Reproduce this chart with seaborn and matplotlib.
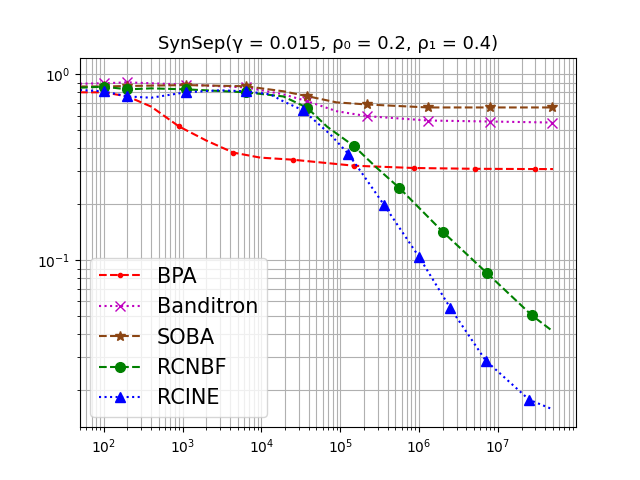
import matplotlib
matplotlib.use("Agg")
from matplotlib import pyplot as plt
import seaborn as sns

# values (x = rounds, y = error rate)
bpa_x = [50, 100, 200, 400, 900, 2000, 4400, 9700, 25000, 150000, 870000, 5.1e6, 3e7, 5e7]
bpa_y = [0.80, 0.80, 0.76, 0.67, 0.524, 0.44, 0.379, 0.356, 0.347, 0.322, 0.313, 0.310, 0.309, 0.309]
bpa_marks = [1, 2, 4, 6, 8, 9, 10, 11, 12]

ban_x = [50, 100, 200, 1100, 6400, 19000, 38000, 90000, 220000, 1.3e6, 8e6, 4.9e7]
ban_y = [0.89, 0.895, 0.905, 0.88, 0.85, 0.78, 0.717, 0.633, 0.595, 0.564, 0.557, 0.55]
ban_marks = [1, 2, 3, 4, 6, 8, 9, 10, 11]

soba_x = [50, 100, 200, 1100, 6400, 19000, 38000, 90000, 220000, 1.3e6, 8e6, 4.9e7]
soba_y = [0.86, 0.86, 0.865, 0.875, 0.862, 0.81, 0.763, 0.706, 0.688, 0.663, 0.663, 0.663]
soba_marks = [1, 2, 3, 4, 6, 8, 9, 10, 11]

rcnbf_x = [50, 100, 200, 400, 1100, 6400, 19000, 38000, 68000, 150000, 290000, 560000,
           2e6, 7.3e6, 2.7e7, 5e7]
rcnbf_y = [0.847, 0.858, 0.83, 0.84, 0.83, 0.80, 0.76, 0.661, 0.523, 0.41, 0.314, 0.245,
           0.142, 0.085, 0.0504, 0.0413]
rcnbf_marks = [1, 2, 4, 5, 7, 9, 11, 12, 13, 14]

rcine_x = [50, 100, 200, 400, 1100, 3000, 6400, 13000, 19000, 34000, 75000, 126000, 195000,
           360000, 1e6, 2.5e6, 7e6, 2.5e7, 5e7]
rcine_y = [0.823, 0.81, 0.76, 0.748, 0.80, 0.82, 0.81, 0.78, 0.715, 0.639, 0.474, 0.374, 0.288,
           0.198, 0.104, 0.0551, 0.0288, 0.0177, 0.0157]
rcine_marks = [1, 2, 4, 6, 9, 11, 13, 14, 15, 16, 17]

series = [
    ("BPA", bpa_x, bpa_y, bpa_marks, "red", "--", "."),
    ("Banditron", ban_x, ban_y, ban_marks, "m", ":", "x"),
    ("SOBA", soba_x, soba_y, soba_marks, "saddlebrown", "--", "*"),
    ("RCNBF", rcnbf_x, rcnbf_y, rcnbf_marks, "green", "--", "o"),
    ("RCINE", rcine_x, rcine_y, rcine_marks, "blue", ":", "^"),
]

fig, ax = plt.subplots(figsize=(6.4, 4.8), dpi=100)

for name, xs, ys, marks, col, ls, mk in series:
    sns.lineplot(x=xs, y=ys, ax=ax, color=col, linestyle=ls, marker=mk,
                 markevery=marks, markersize=7 if mk != "." else 6,
                 markeredgecolor=col, markerfacecolor=col, markeredgewidth=1,
                 label=name, sort=False, linewidth=1.5)

ax.set_xscale("log")
ax.set_yscale("log")
ax.set_xlim(50, 9.8e7)
ax.set_ylim(0.0126, 1.23)
ax.grid(True, which="both")
ax.set_xlabel("")
ax.set_ylabel("")
ax.set_title("SynSep(γ = 0.015, ρ₀ = 0.2, ρ₁ = 0.4)", fontsize=13)
ax.legend(loc="lower left", fontsize=15)

plt.savefig("out.png", dpi=100)
